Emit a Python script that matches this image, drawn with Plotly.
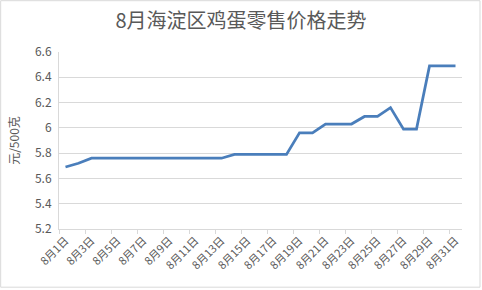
import plotly.graph_objects as go

days = [f"8月{d}日" for d in range(1, 32)]
prices = [5.69, 5.72, 5.76, 5.76, 5.76, 5.76, 5.76, 5.76, 5.76, 5.76,
          5.76, 5.76, 5.76, 5.79, 5.79, 5.79, 5.79, 5.79, 5.96, 5.96,
          6.03, 6.03, 6.03, 6.09, 6.09, 6.16, 5.99, 5.99, 6.49, 6.49, 6.49]
y_ticks = [5.2, 5.4, 5.6, 5.8, 6.0, 6.2, 6.4, 6.6]
y_ticktext = ["5.2", "5.4", "5.6", "5.8", "6", "6.2", "6.4", "6.6"]

FONT = "Noto Sans CJK SC"
GRAY = "#595959"

fig = go.Figure()
fig.add_trace(go.Scatter(
    x=days, y=prices, mode="lines",
    line=dict(color="#4A7EBB", width=2.75),
    hoverinfo="x+y",
))

fig.update_layout(
    width=482, height=290,
    margin=dict(l=59, r=20, t=52, b=61),
    paper_bgcolor="white", plot_bgcolor="white",
    showlegend=False,
    font=dict(family=FONT, color=GRAY, size=11),
    title=dict(text="8月海淀区鸡蛋零售价格走势", x=0.5, xref="container",
               y=1 - 21 / 290, yref="container", yanchor="middle", xanchor="center",
               font=dict(family=FONT, size=20, color=GRAY)),
    xaxis=dict(
        type="category", range=[-0.5, 30.5],
        tickmode="linear", tick0=0, dtick=2, tickson="boundaries",
        ticks="outside", ticklen=4, tickcolor="#D9D9D9",
        tickangle=-45, tickfont=dict(size=11, color=GRAY, family=FONT),
        showgrid=False, showline=True, linecolor="#D9D9D9", linewidth=1,
        zeroline=False, fixedrange=True,
    ),
    yaxis=dict(
        range=[5.2, 6.6], tickvals=y_ticks, ticktext=y_ticktext,
        tickfont=dict(size=12, color=GRAY, family=FONT),
        showgrid=True, gridcolor="#D9D9D9", gridwidth=1,
        showline=True, linecolor="#D9D9D9", linewidth=1,
        ticks="", zeroline=False, ticklabelstandoff=4,
        title=dict(text="元/500克", font=dict(size=12, color=GRAY, family=FONT), standoff=12),
        fixedrange=True,
    ),
    shapes=[dict(type="rect", xref="paper", yref="paper",
                 x0=(1 - 59.3) / 402.7, x1=(480 - 59.3) / 402.7,
                 y0=(229.3 - 287.5) / 177, y1=(229.3 - 1) / 177,
                 line=dict(color="#D9D9D9", width=1), fillcolor="rgba(0,0,0,0)",
                 layer="below")],
)

fig.write_html("out.html")
